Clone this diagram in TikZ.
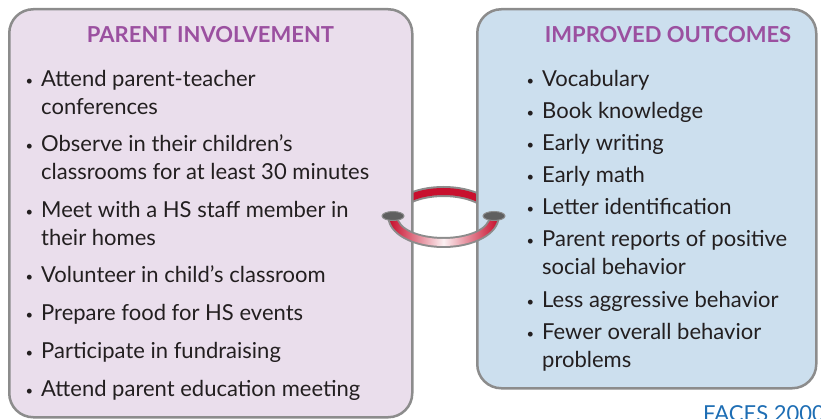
\documentclass[tikz,border=0pt]{standalone}
\usepackage{fontspec}
\setmainfont{Lato}
\usetikzlibrary{positioning, calc}

\definecolor{lilac}{RGB}{234,222,236}
\definecolor{skyfill}{RGB}{204,223,238}
\definecolor{frame}{RGB}{140,140,140}
\definecolor{plum}{RGB}{155,80,160}
\definecolor{ink}{RGB}{35,31,32}
\definecolor{crimson}{RGB}{200,16,46}
\definecolor{capgray}{RGB}{95,95,95}
\definecolor{srcblue}{RGB}{30,110,180}

% bullet hanging left of the first line
\newcommand{\bul}{\strut\llap{\raisebox{1.5pt}{\fontsize{13}{13}\selectfont\textbullet}\hspace{8pt}}}

\begin{document}
\begin{tikzpicture}[x=1pt, y=-1pt,
    panel/.style  ={rectangle, draw=frame, line width=2.5pt, rounded corners=24pt, anchor=north west, inner sep=0},
    title/.style  ={font=\fontsize{22}{24}\selectfont\bfseries, text=plum, anchor=base},
    item/.style   ={anchor=north west, inner sep=0, align=left, text=ink, font=\fontsize{22}{28}\selectfont},
    source/.style ={anchor=base west, inner sep=0, text=srcblue, font=\fontsize{22}{24}\selectfont},
    tube/.style   ={frame, line width=11pt},
    core/.style   ={crimson, line width=7pt},
    ringcap/.style={fill=capgray, draw=frame, line width=1pt},
    ]
    \useasboundingbox (0,0) rectangle (821,419);
    \clip (0,0) rectangle (821,419);

    % --- Ring (back half, behind the panels) ---
    \coordinate (ring) at (443.5,217);
    \draw[tube] (ring) ++(180:50.5 and 25.5) arc[start angle=180, end angle=360, x radius=50.5, y radius=25.5];
    \draw[core] (ring) ++(180:50.5 and 25.5) arc[start angle=180, end angle=360, x radius=50.5, y radius=25.5];

    % --- Panels ---
    \node[panel, fill=lilac, minimum width=403pt, minimum height=408pt] (involve) at (8,8) {};
    \node[panel, fill=skyfill, minimum width=339pt, minimum height=379pt] (outcome) at (476,8) {};

    \node[title] (involve_t) at (210.5,43) {PARENT INVOLVEMENT};
    \node[title] (outcome_t) at (668,43) {IMPROVED OUTCOMES};

    % --- Parent involvement items ---
    \node[item] (p1) at (41,67)  {\bul Attend parent-teacher\\conferences};
    \node[item] (p2) at (41,132) {\bul Observe in their children’s\\classrooms for at least 30 minutes};
    \node[item] (p3) at (41,198) {\bul Meet with a HS staff member in\\their homes};
    \node[item] (p4) at (41,263) {\bul Volunteer in child’s classroom};
    \node[item] (p5) at (41,301) {\bul Prepare food for HS events};
    \node[item] (p6) at (41,339) {\bul Participate in fundraising};
    \node[item] (p7) at (41,377) {\bul Attend parent education meeting};

    % --- Outcome items ---
    \node[item] (o1) at (542,67)  {\bul Vocabulary};
    \node[item] (o2) at (542,99)  {\bul Book knowledge};
    \node[item] (o3) at (542,131) {\bul Early writing};
    \node[item] (o4) at (542,163) {\bul Early math};
    \node[item] (o5) at (542,195) {\bul Letter identification};
    \node[item] (o6) at (542,227) {\bul Parent reports of positive\\social behavior};
    \node[item] (o7) at (542,288) {\bul Less aggressive behavior};
    \node[item] (o8) at (542,320) {\bul Fewer overall behavior\\problems};

    % --- Ring (front half, over the panels) ---
    \fill[frame] ($(ring)+(-56,0)$) arc[start angle=180, end angle=0, x radius=56, y radius=31]
        -- ($(ring)+(45,0)$) arc[start angle=0, end angle=180, x radius=45, y radius=20] -- cycle;
    \shade[left color=crimson, right color=crimson, middle color=crimson!6]
        ($(ring)+(-54,0)$) arc[start angle=180, end angle=0, x radius=54, y radius=29]
        -- ($(ring)+(47,0)$) arc[start angle=0, end angle=180, x radius=47, y radius=22] -- cycle;
    \coordinate (ring_l) at ($(ring)+(-50.5,-1)$);
    \coordinate (ring_r) at ($(ring)+(50.5,-1)$);
    \filldraw[ringcap] (ring_l) ellipse[x radius=11, y radius=4.5];
    \filldraw[ringcap] (ring_r) ellipse[x radius=11, y radius=4.5];

    \node[source] (src) at (703,421) {FACES 2000};
\end{tikzpicture}
\end{document}
